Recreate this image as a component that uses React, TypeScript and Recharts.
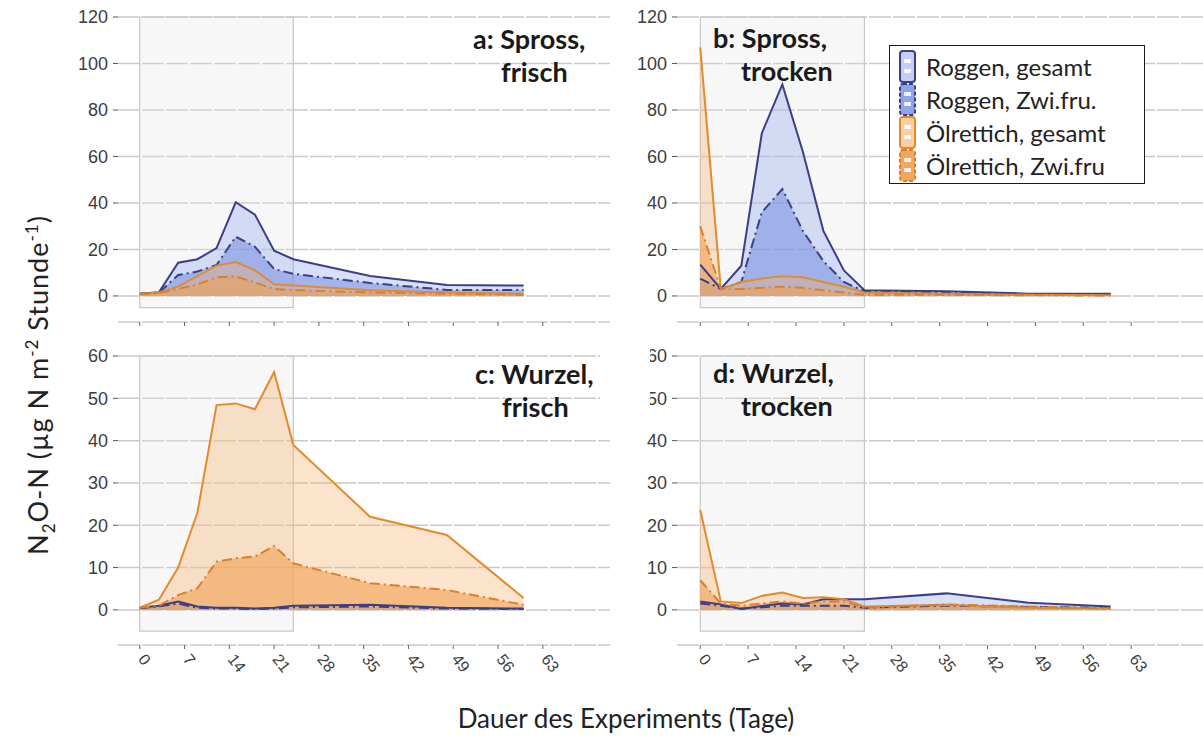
import React from 'react';
import {
  ComposedChart,
  Area,
  XAxis,
  YAxis,
  CartesianGrid,
  ReferenceArea,
  Legend,
} from 'recharts';

// sampling days of the incubation
const DAYS = [0, 3, 6, 9, 12, 15, 18, 21, 24, 36, 48, 60];
const X_TICKS = [0, 7, 14, 21, 28, 35, 42, 49, 56, 63];
const Y_TICKS_SPROSS = [0, 20, 40, 60, 80, 100, 120];
const Y_TICKS_WURZEL = [0, 10, 20, 30, 40, 50, 60];

// a: Spross, frisch
const roggenGesamtA = [1, 1.6, 14.3, 15.8, 20.6, 40.3, 35, 19.5, 15.8, 8.6, 4.7, 4.5];
const roggenZwiA = [1, 1.4, 9, 10.5, 13.3, 25.5, 21.2, 11.6, 9.5, 5.6, 2.6, 2.6];
const oelGesamtA = [0.8, 1.5, 4, 8.5, 13, 14.6, 11, 5, 4.5, 2.5, 1.5, 1];
const oelZwiA = [0.8, 1.3, 3, 5, 8, 8.4, 5.8, 3, 2.5, 1.5, 1, 0.5];

// b: Spross, trocken
const roggenGesamtB = [13.5, 3, 13, 70, 91, 62, 28, 11, 2.5, 2, 1, 1];
const roggenZwiB = [7.5, 3, 6, 36, 46, 28, 15, 6, 2, 1.5, 0.8, 0.5];
const oelGesamtB = [107, 3, 6, 7.5, 8.5, 8, 6, 4, 1.5, 1, 0.5, 0.3];
const oelZwiB = [30, 3, 3, 3.5, 4, 3.5, 2.5, 1.5, 0.5, 0.5, 0.3, 0.2];

// c: Wurzel, frisch
const roggenGesamtC = [0.5, 1, 2, 0.8, 0.5, 0.5, 0.3, 0.5, 1, 1.2, 0.5, 0.3];
const roggenZwiC = [0.4, 0.8, 1.5, 0.5, 0.3, 0.3, 0.2, 0.3, 0.6, 0.8, 0.3, 0.2];
const oelGesamtC = [0.5, 2.4, 10, 22.9, 48.4, 48.8, 47.4, 56.2, 39, 22, 17.7, 2.8];
const oelZwiC = [0.5, 1, 3.5, 5.1, 11.4, 12.2, 12.6, 15.1, 11, 6.3, 4.7, 1.2];

// d: Wurzel, trocken
const roggenGesamtD = [2, 1.3, 0.2, 0.9, 1.5, 1.3, 2.5, 2.5, 2.5, 3.9, 1.7, 0.8];
const roggenZwiD = [1.5, 1, 0.3, 0.6, 1, 1, 1, 1, 0.5, 1, 0.7, 0.5];
const oelGesamtD = [23.6, 2, 1.6, 3.3, 4.1, 2.8, 3, 2.5, 0.8, 1.2, 0.5, 0.3];
const oelZwiD = [7, 1.5, 1, 1.5, 2, 1.5, 2, 2, 0.5, 1.3, 0.8, 0.3];

const NAVY = '#3b3f86';
const ORANGE = '#e38b2c';
const DASH_DOT = '10 4 2 4';

const SERIES = [
  { key: 'roggenGesamt', name: 'Roggen, gesamt', stroke: NAVY, fill: '#8fa3ea', opacity: 0.35, dash: undefined, icon: '#c3cff4' },
  { key: 'roggenZwi', name: 'Roggen, Zwi.fru.', stroke: NAVY, fill: '#6d88e0', opacity: 0.5, dash: DASH_DOT, icon: '#8ea4ea' },
  { key: 'oelGesamt', name: 'Ölrettich, gesamt', stroke: ORANGE, fill: '#f7b36e', opacity: 0.35, dash: undefined, icon: '#f9cfa3' },
  { key: 'oelZwi', name: 'Ölrettich, Zwi.fru', stroke: '#d8802f', fill: '#f0a050', opacity: 0.6, dash: DASH_DOT, icon: '#f0a860' },
];

const buildRows = (rg: number[], rz: number[], og: number[], oz: number[]) =>
  DAYS.map((day, i) => ({ day, roggenGesamt: rg[i], roggenZwi: rz[i], oelGesamt: og[i], oelZwi: oz[i] }));

const dataA = buildRows(roggenGesamtA, roggenZwiA, oelGesamtA, oelZwiA);
const dataB = buildRows(roggenGesamtB, roggenZwiB, oelGesamtB, oelZwiB);
const dataC = buildRows(roggenGesamtC, roggenZwiC, oelGesamtC, oelZwiC);
const dataD = buildRows(roggenGesamtD, roggenZwiD, oelGesamtD, oelZwiD);

const TICK_FONT = '"Liberation Sans", Arial, sans-serif';

const NoTick = () => <g />;

const SlantedTick = (props: any) => {
  const { x, y, payload } = props;
  const tx = x + 1;
  const ty = y + 6;
  return (
    <text
      x={tx}
      y={ty}
      transform={`rotate(52, ${tx}, ${ty})`}
      textAnchor="start"
      dominantBaseline="middle"
      fontSize={16}
      fill="#3d3d3d"
      fontFamily={TICK_FONT}
    >
      {payload.value}
    </text>
  );
};

const LegendIcon = ({ s }: { s: (typeof SERIES)[number] }) => (
  <svg width={20} height={33} style={{ display: 'block' }}>
    <rect x={2} y={1} width={15} height={31} rx={3} fill={s.icon} stroke={s.stroke} strokeWidth={2} strokeDasharray={s.dash ? '4 2' : undefined} />
    <rect x={6} y={9} width={7} height={4} fill="#fff" opacity={0.85} />
    <rect x={6} y={19} width={7} height={4} fill="#fff" opacity={0.85} />
  </svg>
);

const renderLegend = () => (
  <div
    style={{
      width: 256,
      height: 139,
      boxSizing: 'border-box',
      border: '1.5px solid #1a1a1a',
      background: '#fff',
      paddingTop: 4,
      paddingLeft: 8,
      fontFamily: 'Lato, sans-serif',
      fontSize: 24,
      color: '#222',
    }}
  >
    {SERIES.map((s) => (
      <div key={s.key} style={{ display: 'flex', alignItems: 'center', height: 33 }}>
        <LegendIcon s={s} />
        <span style={{ marginLeft: 8, lineHeight: '33px', whiteSpace: 'nowrap' }}>{s.name}</span>
      </div>
    ))}
  </div>
);

interface PanelProps {
  data: any[];
  width: number;
  height: number;
  marginTop: number;
  marginRight: number;
  yAxisWidth: number;
  xAxisHeight: number;
  yDomain: [number, number];
  yTicks: number[];
  boxTop: number;
  labels: boolean;
  legend?: boolean;
}

const Panel = ({
  data, width, height, marginTop, marginRight, yAxisWidth, xAxisHeight, yDomain, yTicks, boxTop, labels, legend,
}: PanelProps) => (
  <ComposedChart
    width={width}
    height={height}
    data={data}
    margin={{ top: marginTop, right: marginRight, bottom: 0, left: 0 }}
  >
    <CartesianGrid vertical={false} stroke="#c9c9c9" strokeWidth={1.5} strokeDasharray="22 2" />
    <ReferenceArea
      x1={0}
      x2={24}
      y1={-5}
      y2={boxTop}
      fill="#e6e6e6"
      fillOpacity={0.3}
      stroke="#c8c8c8"
      strokeWidth={1.2}
      zIndex={-50}
    />
    <XAxis
      type="number"
      dataKey="day"
      domain={[-3.4, 73.5]}
      ticks={X_TICKS}
      allowDataOverflow
      axisLine={false}
      tickLine={{ stroke: '#666' }}
      tickSize={4}
      tickMargin={2}
      height={xAxisHeight}
      interval={0}
      tick={labels ? <SlantedTick /> : <NoTick />}
    />
    <YAxis
      type="number"
      domain={yDomain}
      ticks={yTicks}
      allowDataOverflow
      axisLine={false}
      tickLine={{ stroke: '#555' }}
      tickSize={5}
      tickMargin={5}
      width={yAxisWidth}
      interval={0}
      tick={{ fontSize: 18, fill: '#3d3d3d', fontFamily: TICK_FONT }}
    />
    {/* fills first, outlines on top so low series stay visible */}
    {SERIES.map((s) => (
      <Area
        key={`${s.key}-fill`}
        type="linear"
        dataKey={s.key}
        name={s.name}
        baseValue={0}
        stroke="none"
        fill={s.fill}
        fillOpacity={s.opacity}
        dot={false}
        activeDot={false}
        isAnimationActive={false}
      />
    ))}
    {SERIES.map((s) => (
      <Area
        key={`${s.key}-line`}
        type="linear"
        dataKey={s.key}
        name={s.name}
        baseValue={0}
        stroke={s.stroke}
        strokeWidth={2}
        strokeDasharray={s.dash}
        fill="none"
        fillOpacity={0}
        dot={false}
        activeDot={false}
        legendType="none"
        isAnimationActive={false}
      />
    ))}
    {legend && (
      <Legend
        layout="vertical"
        align="center"
        verticalAlign="middle"
        content={renderLegend}
        wrapperStyle={{ left: 329, top: 45, width: 256, height: 139 }}
      />
    )}
  </ComposedChart>
);

const PanelLabel = ({ first, second, x1, x2, y }: { first: string; second: string; x1: number; x2: number; y: number }) => (
  <>
    <div style={{ position: 'absolute', left: x1, top: y, fontSize: 27, fontWeight: 700, lineHeight: '33px', color: '#1a1a1a', whiteSpace: 'nowrap' }}>
      {first}
    </div>
    <div style={{ position: 'absolute', left: x2, top: y + 33, fontSize: 27, fontWeight: 700, lineHeight: '33px', color: '#1a1a1a', whiteSpace: 'nowrap' }}>
      {second}
    </div>
  </>
);

export default function App() {
  return (
    <div
      style={{
        position: 'absolute',
        left: 0,
        top: 0,
        width: 1203,
        height: 740,
        background: '#fff',
        overflow: 'hidden',
        fontFamily: 'Lato, sans-serif',
      }}
    >
      <div style={{ position: 'absolute', left: 0, top: 0 }}>
        <Panel data={dataA} width={615} height={335} marginTop={17} marginRight={5} yAxisWidth={118} xAxisHeight={13}
          yDomain={[-11.2, 120]} yTicks={Y_TICKS_SPROSS} boxTop={120} labels={false} />
      </div>
      <div style={{ position: 'absolute', left: 0, top: 340 }}>
        <Panel data={dataC} width={615} height={345} marginTop={16} marginRight={5} yAxisWidth={118} xAxisHeight={40}
          yDomain={[-8.3, 60]} yTicks={Y_TICKS_WURZEL} boxTop={60} labels />
      </div>
      <div style={{ position: 'absolute', left: 560, top: 0 }}>
        <Panel data={dataB} width={643} height={335} marginTop={17} marginRight={0} yAxisWidth={117} xAxisHeight={13}
          yDomain={[-11.2, 120]} yTicks={Y_TICKS_SPROSS} boxTop={120} labels={false} legend />
      </div>
      <div style={{ position: 'absolute', left: 560, top: 340 }}>
        <Panel data={dataD} width={643} height={345} marginTop={16} marginRight={0} yAxisWidth={117} xAxisHeight={40}
          yDomain={[-8.3, 60]} yTicks={Y_TICKS_WURZEL} boxTop={60} labels />
      </div>

      {/* gap between the lower panels hides the left edge of the upper tick labels of d */}
      <div style={{ position: 'absolute', left: 600, top: 346, width: 50, height: 60, background: '#fff' }} />

      <PanelLabel first="a: Spross," second="frisch" x1={473} x2={501} y={22} />
      <PanelLabel first="b: Spross," second="trocken" x1={713} x2={741} y={21} />
      <PanelLabel first="c: Wurzel," second="frisch" x1={475} x2={502} y={357} />
      <PanelLabel first="d: Wurzel," second="trocken" x1={713} x2={741} y={356} />

      <div
        style={{
          position: 'absolute',
          left: 40,
          top: 385,
          transform: 'translate(-50%, -50%) rotate(-90deg)',
          fontSize: 27,
          letterSpacing: 1,
          color: '#222',
          whiteSpace: 'nowrap',
        }}
      >
        N<sub style={{ fontSize: 17 }}>2</sub>O-N (µg N m<sup style={{ fontSize: 17 }}>-2</sup> Stunde<sup style={{ fontSize: 17 }}>-1</sup>)
      </div>
      <div
        style={{
          position: 'absolute',
          left: 626,
          top: 718,
          transform: 'translate(-50%, -50%)',
          fontSize: 26,
          color: '#222',
          whiteSpace: 'nowrap',
        }}
      >
        Dauer des Experiments (Tage)
      </div>
    </div>
  );
}
